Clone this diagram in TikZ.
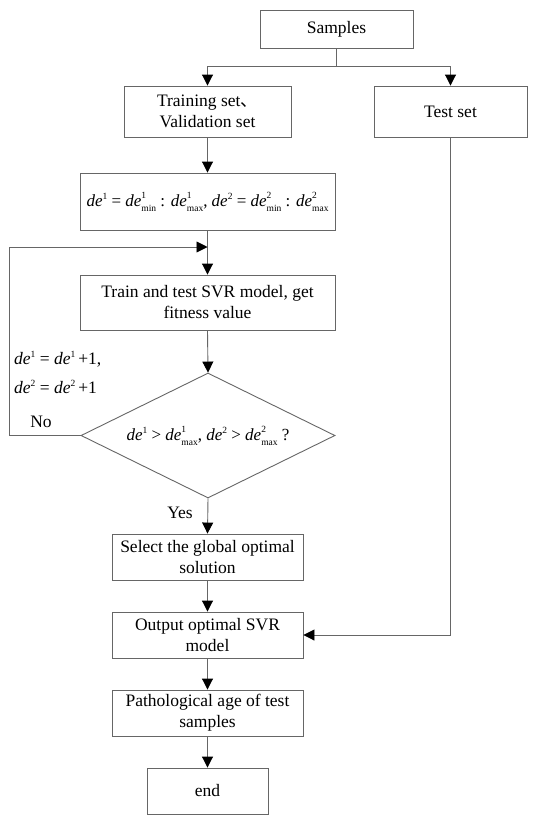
\documentclass[tikz,border=0pt]{standalone}
\usepackage{fontspec}
\setmainfont{Liberation Serif}
\newfontfamily\cjk{Noto Sans CJK SC}
\usetikzlibrary{shapes.geometric,arrows.meta}
\newcommand\smf{\fontsize{9.5}{9.5}\selectfont}
\newcommand\deS[1]{\textit{de}\raisebox{7pt}{\smf #1}}
\newcommand\deSS[2]{\textit{de}\rlap{\raisebox{8.5pt}{\smf #1}}\raisebox{-4.5pt}{\smf #2}}
\tikzset{
  box/.style={draw=black!60, line width=0.9pt, rectangle, align=center, inner sep=2pt,
    font=\fontsize{17.5}{21}\selectfont},
  dia/.style={draw=black!60, line width=0.9pt, diamond, aspect=2, inner sep=0pt,
    minimum width=254pt, minimum height=125pt, font=\fontsize{17}{21}\selectfont},
  lbl/.style={inner sep=0pt, font=\fontsize{17.5}{21}\selectfont},
  conn/.style={draw=black!60, line width=0.9pt},
  arr/.style={conn, -{Triangle[length=11pt,width=11pt,color=black]}},
}
\begin{document}
\begin{tikzpicture}[x=1pt,y=-1pt]
\useasboundingbox (0,0) rectangle (544,815);
\fill[white] (0,0) rectangle (544,815);
\node[box, minimum width=153pt, minimum height=38pt] (samples) at (336.5,29) {Samples};
\node[box, minimum width=167pt, minimum height=51pt] (train) at (207.5,111.5) {Training set{\cjk 、}\\Validation set};
\node[box, minimum width=153pt, minimum height=51pt] (test) at (450.5,111.5) {Test set};
\node[box, minimum width=255pt, minimum height=57pt, font=\fontsize{17}{21}\selectfont] (range) at (207.5,201.5)
  {\deS{1} = \deSS{1}{min} : \deSS{1}{max}, \deS{2} = \deSS{2}{min} : \deSS{2}{max}};
\node[box, minimum width=255pt, minimum height=55pt] (svr) at (207.5,302.5) {Train and test SVR model, get\\fitness value};
\node[dia] (cond) at (208,435.5) {\deS{1} > \deSS{1}{max}, \deS{2} > \deSS{2}{max} ?};
\node[box, minimum width=191pt, minimum height=46pt] (select) at (207.5,557) {Select the global optimal\\solution};
\node[box, minimum width=191pt, minimum height=46pt] (output) at (207.5,635) {Output optimal SVR\\model};
\node[box, minimum width=191pt, minimum height=46pt] (patho) at (207.5,713) {Pathological age of test\\samples};
\node[box, minimum width=121pt, minimum height=46pt] (end) at (207.5,791) {end};

\node[lbl, anchor=west] (inc1) at (14,359) {\deS{1} = \deS{1}\,+1,};
\node[lbl, anchor=west] (inc2) at (14,387) {\deS{2} = \deS{2}\,+1};
\node[lbl] (no) at (41,422) {No};
\node[lbl] (yes) at (180,513) {Yes};

\coordinate (split) at (336.5,66);
\coordinate (loopA) at (9,435.5);
\coordinate (loopB) at (9,247);
\coordinate (loopC) at (207.5,247);
\coordinate (testC) at (450.5,635);

\draw[conn] (samples.south) -- (split);
\draw[arr] (split) -| (train.north);
\draw[arr] (split) -| (test.north);
\draw[arr] (train.south) -- (range.north);
\draw[arr] (range.south) -- (svr.north);
\draw[arr] (cond.west) -- (loopA) -- (loopB) -- (loopC);
\draw[arr] (svr.south) -- (cond.north);
\draw[arr] (cond.south) -- (select.north);
\draw[arr] (select.south) -- (output.north);
\draw[arr] (test.south) -- (testC) -- (output.east);
\draw[arr] (output.south) -- (patho.north);
\draw[arr] (patho.south) -- (end.north);
\end{tikzpicture}
\end{document}
